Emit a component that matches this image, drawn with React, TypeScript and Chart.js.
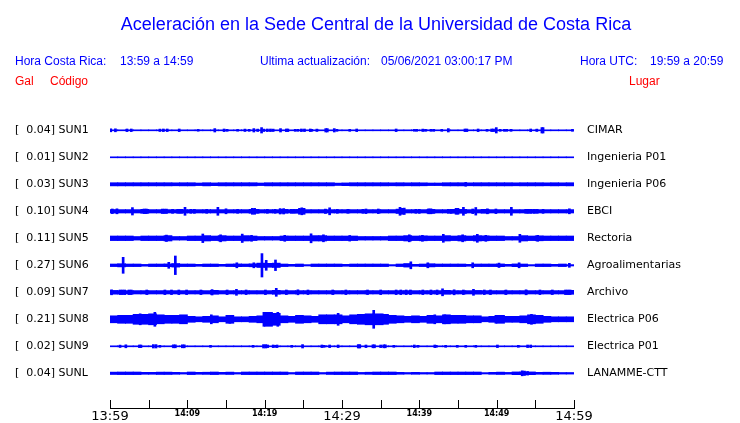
import React, { useEffect, useRef } from 'react';
import { Chart, registerables } from 'chart.js';

Chart.register(...registerables);

// ---------- text ----------
const TITLE = 'Aceleración en la Sede Central de la Universidad de Costa Rica';
const HEADER_LEFT = ['Hora Costa Rica:', '13:59 a 14:59'];
const HEADER_MID = ['Ultima actualización:', '05/06/2021 03:00:17 PM'];
const HEADER_RIGHT = ['Hora UTC:', '19:59 a 20:59'];
const COL_HEADERS = ['Gal', 'Código', 'Lugar'];

// ---------- stations ----------
const CODES = ['SUN1', 'SUN2', 'SUN3', 'SUN4', 'SUN5', 'SUN6', 'SUN7', 'SUN8', 'SUN9', 'SUNL'];
const PEAK_GAL = ['0.04', '0.01', '0.03', '0.10', '0.11', '0.27', '0.09', '0.21', '0.02', '0.04'];
const PLACES = ['CIMAR', 'Ingenieria P01', 'Ingenieria P06', 'EBCI', 'Rectoria', 'Agroalimentarias', 'Archivo', 'Electrica P06', 'Electrica P01', 'LANAMME-CTT'];

// ---------- time axis ----------
const TIME_LABELS = ['13:59', '14:09', '14:19', '14:29', '14:39', '14:49', '14:59'];
const TICK_MINUTES = [0, 5, 10, 15, 20, 25, 30, 35, 40, 45, 50, 55, 60];

// ---------- trace envelopes: half-amplitude for each minute (0..59) ----------
const SUN1_BAND = [0.5,0.5,0.5,0.5,0.5,0.5,0.5,0.5,0.5,0.5, 0.5,0.5,0.5,0.5,0.5,0.5,0.5,0.5,0.5,0.5, 0.5,0.5,0.5,0.5,0.5,0.5,0.5,0.5,0.5,0.5, 0.5,0.5,0.5,0.5,0.5,0.5,0.5,0.5,0.5,0.5, 0.5,0.5,0.5,0.5,0.5,0.5,0.5,0.5,0.5,0.5, 0.5,0.5,0.5,0.5,0.5,0.5,0.5,0.5,0.5,0.5];
const SUN2_BAND = [0.5,0.5,0.5,0.5,0.5,0.5,0.5,0.5,0.5,0.5, 0.5,0.5,0.5,0.5,0.5,0.5,0.5,0.5,0.5,0.5, 0.5,0.5,0.5,0.5,0.5,0.5,0.5,0.5,0.5,0.5, 0.5,0.5,0.5,0.5,0.5,0.5,0.5,0.5,0.5,0.5, 0.5,0.5,0.5,0.5,0.5,0.5,0.5,0.5,0.5,0.5, 0.5,0.5,0.5,0.5,0.5,0.5,0.5,0.5,0.5,0.5];
const SUN3_BAND = [1.6,1.6,1.6,1.6,1.6,1.6,1.6,1.6,1.5,1.6, 1.6,1.3,1.6,1.4,1.6,1.6,1.6,1.6,1.6,1.3, 1.6,1.6,1.6,1.6,1.6,1.6,1.6,1.6,1.6,1.2, 1.4,1.6,1.6,1.6,1.6,1.6,1.5,1.6,1.5,1.6, 1.5,1.3,1.3,1.6,1.6,1.6,1.5,1.6,1.6,1.6, 1.6,1.6,1.5,1.6,1.6,1.6,1.5,1.6,1.5,1.6];
const SUN4_BAND = [1.8,1.7,1.7,1.7,2.0,1.7,1.7,1.7,1.7,1.7, 1.7,1.7,1.7,1.7,1.7,1.7,1.7,1.7,2.0,1.7, 1.7,1.7,2.0,1.7,2.0,1.7,1.7,1.7,1.7,1.7, 1.7,1.7,1.7,1.7,1.7,1.7,1.7,2.2,1.7,1.7, 1.7,2.0,1.7,1.7,2.0,2.0,1.7,1.7,2.0,1.7, 1.7,1.7,1.7,1.7,1.9,1.7,1.7,1.7,1.7,1.7];
const SUN5_BAND = [2.3,2.3,2.3,1.8,2.3,2.3,2.3,2.7,1.8,1.8, 2.3,2.3,2.7,2.3,2.7,2.3,2.3,2.7,2.3,1.8, 1.8,1.8,2.3,2.3,2.3,2.3,2.7,2.7,2.3,2.3, 2.3,2.3,1.8,1.8,1.8,1.8,2.3,2.3,2.7,2.3, 2.5,2.3,2.3,2.7,2.3,2.7,2.3,2.7,2.5,2.3, 2.3,1.8,1.8,2.7,2.3,2.5,2.3,2.3,2.3,2.3];
const SUN6_BAND = [1.3,1.6,1.3,1.3,0.9,1.3,1.3,1.4,1.8,1.3, 1.3,1.0,1.3,1.3,1.0,1.3,1.4,1.3,1.5,2.2, 2.0,2.2,1.3,1.0,1.3,0.7,1.3,1.3,1.3,1.3, 1.0,1.3,1.3,1.3,1.3,1.3,0.7,1.3,1.8,1.0, 1.3,1.6,1.3,1.3,1.3,1.3,1.0,1.3,1.3,1.3, 1.4,1.0,1.4,1.3,0.7,1.3,1.3,1.0,1.3,0.7];
const SUN7_BAND = [1.9,1.7,1.7,1.7,1.7,1.7,1.7,1.7,1.7,1.7, 1.7,1.7,1.7,2.0,1.7,1.7,1.7,1.7,1.7,1.7, 1.7,2.0,1.7,1.7,1.7,1.7,1.7,1.7,1.7,1.7, 1.7,1.7,1.7,1.7,1.7,1.7,1.7,1.7,1.7,1.7, 1.7,1.7,1.7,2.0,1.7,1.7,1.7,1.9,1.7,1.7, 1.7,1.7,1.7,1.7,1.7,1.7,1.7,1.7,1.7,2.0];
const SUN8_BAND = [3.5,4.0,4.0,5.0,5.0,5.5,4.5,4.0,4.0,4.5, 3.0,2.5,3.0,3.5,2.5,4.0,2.5,2.5,3.0,3.5, 7.0,6.0,3.5,3.0,4.0,3.5,3.0,4.5,4.5,4.5, 3.5,4.5,5.0,5.5,5.5,5.0,4.0,3.5,3.0,3.5, 3.0,4.0,3.5,4.5,4.0,4.0,3.5,3.5,2.5,3.0, 4.0,3.0,3.0,3.5,4.5,4.0,3.0,2.5,2.5,2.5];
const SUN9_BAND = [0.5,0.5,0.5,0.5,0.5,0.5,0.5,0.5,0.5,0.5, 0.5,0.5,0.5,0.5,0.5,0.5,0.5,0.5,0.5,0.5, 0.5,0.5,0.5,0.5,0.5,0.5,0.5,0.5,0.5,0.5, 0.5,0.5,0.5,0.5,0.5,0.5,0.5,0.5,0.5,0.5, 0.5,0.5,0.5,0.5,0.5,0.5,0.5,0.5,0.5,0.5, 0.5,0.5,0.5,0.5,0.5,0.5,0.5,0.5,0.5,0.5];
const SUNL_BAND = [1.2,1.3,1.3,1.3,1.0,1.0,1.2,1.2,1.0,0.8, 1.3,1.0,1.1,1.3,1.0,1.2,0.8,1.3,1.3,1.3, 1.3,1.3,1.3,0.8,1.3,1.3,1.3,0.8,1.2,1.3, 1.3,1.3,0.9,1.1,1.3,1.3,1.3,1.0,0.8,1.0, 0.8,0.8,1.3,1.3,1.3,1.3,1.3,1.3,0.7,1.0, 1.2,0.9,1.4,1.4,1.4,1.0,1.1,1.0,0.8,0.8];

// ---------- short bursts: [minute, half-amplitude] ----------
const SUN1_PEAKS = [[0.1,1.5],[0.7,1.5],[2.2,1.3],[2.75,1.3],[6.45,1.2],[6.9,1.3],[7.4,1.3],[8.95,1.3],[11.4,0.9],[13.55,1.7],[14.75,1.3],[15.15,1.0],[16.5,0.9],[17.45,1.2],[18.0,1.0],[18.6,1.7],[19.1,1.2],[19.6,2.7],[19.9,1.2],[20.35,1.3],[20.75,1.3],[21.1,1.2],[22.05,1.7],[22.8,1.3],[23.0,1.3],[23.95,1.0],[24.3,1.0],[24.75,1.3],[25.15,1.3],[25.9,1.3],[26.1,1.0],[26.75,1.2],[27.9,1.7],[28.1,1.7],[29.0,1.7],[29.35,1.0],[31.0,1.0],[31.9,1.3],[37.0,1.3],[39.35,0.9],[39.65,1.0],[40.45,1.2],[40.8,1.0],[41.5,1.0],[41.85,1.0],[42.9,1.0],[43.75,1.7],[45.9,1.3],[46.15,1.3],[47.6,1.3],[48.75,1.0],[49.35,1.3],[49.6,1.3],[49.95,2.7],[50.45,1.0],[51.0,1.0],[51.3,1.0],[51.85,1.0],[54.4,1.3],[55.2,1.2],[55.85,2.7],[56.0,2.7],[59.8,1.0]];
const SUN2_PEAKS: number[][] = [];
const SUN3_PEAKS = [[46.0,1.9]];
const SUN4_PEAKS = [[0.3,2.3],[0.9,2.5],[2.9,3.7],[4.4,2.3],[4.7,2.3],[6.75,2.2],[7.0,2.2],[7.3,2.2],[8.1,2.0],[8.75,2.0],[9.05,2.0],[9.3,2.0],[9.7,4.0],[10.45,2.0],[10.9,2.0],[12.5,2.0],[13.95,4.0],[15.0,2.5],[16.5,2.0],[18.4,3.0],[18.7,3.0],[19.15,2.0],[20.35,2.0],[21.35,2.0],[22.0,2.7],[22.45,2.7],[23.45,2.0],[23.75,2.0],[24.5,3.0],[24.8,3.5],[25.1,3.0],[27.85,2.2],[28.4,3.5],[29.4,2.0],[30.75,2.0],[32.7,2.0],[33.1,2.3],[34.7,2.3],[37.5,4.0],[37.75,3.0],[38.05,3.2],[39.55,2.0],[40.0,2.0],[41.2,2.5],[41.5,2.5],[41.8,2.0],[43.75,2.0],[44.1,2.0],[44.75,3.0],[45.0,3.0],[45.7,4.0],[46.0,2.0],[46.9,2.3],[47.3,3.8],[48.8,2.5],[49.9,2.3],[51.9,4.0],[53.75,2.0],[54.05,2.0],[54.4,2.0],[54.85,2.0],[55.25,2.0],[56.0,2.0],[59.4,2.5]];
const SUN5_PEAKS = [[7.3,3.2],[12.0,4.3],[14.3,3.5],[17.1,4.2],[18.3,3.0],[22.6,3.0],[26.0,4.5],[27.6,3.5],[31.0,2.8],[38.7,3.5],[40.4,3.0],[43.1,4.0],[45.6,3.5],[47.5,4.0],[48.6,3.0],[53.0,4.0],[55.3,3.0]];
const SUN6_PEAKS = [[1.7,8.0],[7.6,3.0],[8.45,9.3],[16.4,2.5],[18.6,2.5],[19.65,11.7],[20.2,5.0],[21.4,5.3],[38.9,3.5],[41.1,2.5],[46.9,2.5],[50.3,2.2],[52.9,2.5],[59.4,2.0]];
const SUN7_PEAKS = [[0.2,2.5],[1.3,2.3],[1.6,2.3],[1.9,2.3],[2.45,2.3],[2.75,2.3],[4.75,2.3],[7.1,2.3],[7.95,2.3],[8.9,2.3],[9.9,2.3],[11.75,2.3],[13.2,2.7],[15.15,2.3],[16.35,3.0],[17.6,2.3],[20.1,2.3],[21.5,4.0],[22.8,2.3],[24.3,2.5],[25.6,2.3],[28.8,2.3],[30.5,2.3],[33.3,2.3],[35.0,2.3],[37.0,2.3],[37.6,2.3],[38.3,2.3],[38.85,2.3],[40.45,2.3],[41.5,2.3],[42.3,2.3],[43.0,3.5],[44.5,2.5],[45.7,2.3],[47.0,3.0],[48.4,2.3],[49.2,2.3],[51.2,2.3],[53.8,2.5],[55.6,2.3],[57.2,2.3],[58.9,2.3],[59.2,2.3],[59.5,2.3]];
const SUN8_PEAKS = [[3.9,5.5],[5.8,7.0],[13.1,4.5],[15.5,4.0],[19.9,7.0],[21.7,7.0],[29.5,6.0],[34.1,9.0],[35.2,5.5],[42.0,4.5],[43.3,4.5],[49.9,4.0],[54.5,5.0]];
const SUN9_PEAKS = [[1.3,1.2],[2.05,1.5],[3.8,1.3],[4.0,1.3],[5.6,1.7],[5.95,1.7],[6.45,1.0],[8.2,1.5],[8.45,1.5],[9.35,1.5],[9.6,1.5],[13.0,1.0],[18.5,1.0],[19.85,1.7],[20.15,1.7],[20.4,1.3],[21.1,1.3],[21.4,1.0],[21.6,1.3],[23.5,1.0],[24.9,1.7],[27.4,1.3],[27.7,1.0],[28.4,1.3],[29.5,1.3],[32.1,1.7],[32.3,1.7],[33.1,1.3],[34.0,1.5],[34.2,1.5],[35.0,1.3],[35.4,1.5],[35.6,1.5],[36.7,1.0],[39.35,1.3],[39.8,1.0],[42.0,1.3],[42.2,1.0],[43.4,1.0],[44.9,1.0],[46.0,1.0],[47.3,1.0],[50.1,1.3],[52.8,1.0],[54.0,1.3],[54.4,1.3]];
const SUNL_PEAKS = [[53.3,2.5],[53.6,2.2],[54.0,1.8]];

const BANDS = [SUN1_BAND, SUN2_BAND, SUN3_BAND, SUN4_BAND, SUN5_BAND, SUN6_BAND, SUN7_BAND, SUN8_BAND, SUN9_BAND, SUNL_BAND];
const PEAKS = [SUN1_PEAKS, SUN2_PEAKS, SUN3_PEAKS, SUN4_PEAKS, SUN5_PEAKS, SUN6_PEAKS, SUN7_PEAKS, SUN8_PEAKS, SUN9_PEAKS, SUNL_PEAKS];

// ---------- layout / style ----------
const ROW = 27;
const PLOT_TOP = 116;
const PLOT_BOTTOM = 408;
const Y_MIN = -14.3;
const Y_MAX = Y_MIN + (PLOT_BOTTOM - PLOT_TOP);
const BLUE = '#0000ff';
const RED = '#ff0000';
const SANS = '"Liberation Sans", Arial, sans-serif';
const DEJAVU = '"DejaVu Sans", sans-serif';

const headerPlugin = {
  id: 'header',
  afterDraw(chart: any) {
    const ctx = chart.ctx;
    ctx.save();
    ctx.textBaseline = 'alphabetic';
    ctx.fillStyle = BLUE;
    ctx.font = `18px ${SANS}`;
    ctx.textAlign = 'center';
    ctx.fillText(TITLE, 376, 30);

    ctx.font = `12px ${SANS}`;
    ctx.textAlign = 'left';
    ctx.fillText(HEADER_LEFT[0], 15, 65);
    ctx.fillText(HEADER_LEFT[1], 120, 65);
    ctx.fillText(HEADER_MID[0], 260, 65);
    ctx.fillText(HEADER_MID[1], 381, 65);
    ctx.fillText(HEADER_RIGHT[0], 580, 65);
    ctx.fillText(HEADER_RIGHT[1], 650, 65);

    ctx.fillStyle = RED;
    ctx.fillText(COL_HEADERS[0], 15, 85);
    ctx.fillText(COL_HEADERS[1], 50, 85);
    ctx.fillText(COL_HEADERS[2], 629, 85);

    // inward tick marks on the time axis
    const xs = chart.scales.x;
    const bottom = chart.chartArea.bottom;
    ctx.strokeStyle = '#000';
    ctx.lineWidth = 1;
    TICK_MINUTES.forEach((m) => {
      const px = Math.round(xs.getPixelForValue(m)) + 0.5;
      ctx.beginPath();
      ctx.moveTo(px, bottom - 8);
      ctx.lineTo(px, bottom);
      ctx.stroke();
    });
    ctx.restore();
  },
};

export default function App() {
  const ref = useRef<HTMLCanvasElement>(null);

  useEffect(() => {
    if (!ref.current) return;
    const datasets: any[] = [];
    BANDS.forEach((band, i) => {
      const c = i * ROW;
      datasets.push({
        type: 'bar',
        data: band.map((a, k) => ({ x: k + 0.5, y: [c - a, c + a] })),
        backgroundColor: BLUE,
        borderWidth: 0,
        grouped: false,
        barThickness: 8,
        yAxisID: 'y',
      });
      datasets.push({
        type: 'bar',
        data: PEAKS[i].map(([m, a]) => ({ x: m, y: [c - a, c + a] })),
        backgroundColor: BLUE,
        borderWidth: 0,
        grouped: false,
        barThickness: 2,
        yAxisID: 'y',
      });
    });

    const rowTicks = (scale: any) => {
      scale.ticks = CODES.map((_, i) => ({ value: i * ROW }));
    };
    const fitWidth = (w: number) => (scale: any) => {
      scale.width = w;
      scale.paddingTop = 0;
      scale.paddingBottom = 0;
    };

    const chart = new Chart(ref.current, {
      type: 'bar',
      data: { datasets },
      options: {
        animation: false,
        responsive: false,
        events: [],
        layout: { padding: { left: 15, top: PLOT_TOP, right: 0, bottom: 0 } },
        plugins: { legend: { display: false }, tooltip: { enabled: false }, title: { display: false } },
        scales: {
          x: {
            type: 'linear',
            min: 0,
            max: 60,
            offset: false,
            position: 'bottom',
            grid: { display: true, drawOnChartArea: false, drawTicks: false },
            border: { display: true, color: '#000', width: 1 },
            afterBuildTicks: (scale: any) => {
              scale.ticks = TICK_MINUTES.map((m) => ({ value: m }));
            },
            afterFit: (scale: any) => {
              scale.height = 423 - PLOT_BOTTOM;
            },
            ticks: {
              autoSkip: false,
              maxRotation: 0,
              minRotation: 0,
              padding: 1,
              color: '#000',
              font: (ctx: any) => {
                const v = ctx.tick ? ctx.tick.value : 0;
                return v % 30 === 0 ? { family: DEJAVU, size: 13 } : { family: DEJAVU, size: 8, weight: 'bold' };
              },
              callback: (v: any) => (v % 10 === 0 ? TIME_LABELS[v / 10] : ''),
            },
          },
          y: {
            type: 'linear',
            position: 'left',
            min: Y_MIN,
            max: Y_MAX,
            reverse: true,
            grid: { display: false, drawTicks: false },
            border: { display: false },
            afterBuildTicks: rowTicks,
            afterFit: fitWidth(95),
            ticks: {
              crossAlign: 'far',
              padding: 0,
              color: '#000',
              font: { family: DEJAVU, size: 11 },
              callback: (_v: any, i: number) => `[  ${PEAK_GAL[i]}] ${CODES[i]}`,
            },
          },
          y2: {
            type: 'linear',
            position: 'right',
            min: Y_MIN,
            max: Y_MAX,
            reverse: true,
            grid: { display: false, drawTicks: false },
            border: { display: false },
            afterBuildTicks: rowTicks,
            afterFit: fitWidth(166),
            ticks: {
              padding: 13,
              color: '#000',
              font: { family: DEJAVU, size: 11 },
              callback: (_v: any, i: number) => PLACES[i],
            },
          },
        },
      } as any,
      plugins: [headerPlugin],
    });
    return () => chart.destroy();
  }, []);

  return (
    <div style={{ position: 'fixed', left: 0, top: 0, width: 740, height: 423, background: '#fff' }}>
      <canvas ref={ref} width={740} height={423} style={{ display: 'block', width: 740, height: 423 }} />
    </div>
  );
}
